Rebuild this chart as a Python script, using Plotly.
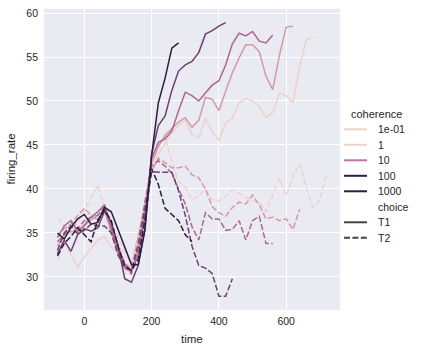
import numpy as np
import plotly.graph_objects as go

# ---------------- data ----------------
TIME = [-80, -60, -40, -20, 0, 20, 40, 60, 80, 100, 120, 140, 160, 180, 200,
        220, 240, 260, 280, 300, 320, 340, 360, 380, 400, 420, 440, 460, 480,
        500, 520, 540, 560, 580, 600, 620, 640, 660, 680, 700, 720]

COHERENCE = [3.2, 6.4, 12.8, 25.6, 51.2]
CHOICES = ["T1", "T2"]

T1_C3_2 = [31.8, 34.0, 32.5, 31.1, 32.3, 33.2, 34.2, 34.6, 33.4, 32.6, 31.6, 30.9, 32.8, 36.5, 42.5,
           44.0, 45.2, 46.4, 47.2, 47.8, 46.2, 45.8, 48.0, 46.5, 45.5, 47.5, 48.0, 49.8, 50.3, 50.0,
           49.4, 48.1, 48.7, 50.9, 50.6, 49.8, 53.9, 57.0, 57.2]
T1_C6_4 = [33.5, 34.8, 35.2, 35.0, 35.8, 36.5, 37.0, 37.6, 35.2, 32.8, 31.0, 30.5, 33.0, 37.5, 43.0,
           44.8, 46.1, 46.8, 47.6, 48.1, 47.0, 47.8, 50.4, 50.2, 48.9, 51.1, 53.2, 54.9, 56.4, 56.4,
           55.6, 52.8, 51.3, 55.2, 58.4, 58.5]
T1_C12_8 = [34.5, 35.8, 36.4, 35.2, 35.9, 36.8, 37.4, 38.2, 35.5, 33.0, 31.2, 30.8, 32.5, 37.0, 43.5,
            45.3, 45.7, 46.6, 48.9, 51.0, 50.6, 50.0, 50.9, 51.8, 52.3, 54.1, 56.5, 57.7, 57.4, 57.9,
            56.8, 56.6, 57.5]
T1_C25_6 = [32.6, 34.2, 32.9, 34.8, 35.5, 35.2, 35.6, 37.5, 36.2, 33.6, 29.8, 29.4, 31.3, 35.5, 44.0,
            47.2, 48.3, 51.2, 53.4, 54.1, 54.5, 55.5, 57.6, 58.0, 58.5, 58.9]
T1_C51_2 = [35.0, 34.3, 35.6, 36.6, 37.1, 36.0, 36.2, 37.9, 37.4, 35.4, 33.3, 31.4, 31.4, 35.3, 43.8,
            49.8, 52.6, 56.0, 56.6]

T2_C3_2 = [36.7, 35.8, 35.0, 36.2, 37.6, 38.9, 40.4, 37.8, 36.2, 34.5, 32.8, 31.6, 34.8, 38.5, 42.5,
           45.0, 45.9, 43.1, 40.8, 40.2, 38.8, 39.2, 40.0, 38.8, 38.6, 39.2, 39.9, 39.5, 39.0, 38.7,
           38.5, 37.4, 39.3, 41.2, 39.2, 41.4, 42.9, 40.1, 37.9, 38.8, 41.6]
T2_C6_4 = [34.5, 35.5, 36.0, 37.0, 37.8, 37.0, 36.5, 37.5, 35.0, 33.8, 31.5, 31.0, 34.5, 38.0, 42.0,
           43.5, 43.0, 42.4, 42.4, 42.6, 41.6, 41.3, 40.0, 38.0, 37.3, 36.9, 37.9, 38.5, 38.3, 39.3,
           38.2, 36.6, 36.8, 36.4, 36.6, 35.4, 37.7]
T2_C12_8 = [34.0, 34.8, 35.8, 35.5, 36.4, 36.8, 37.0, 38.0, 36.0, 33.2, 31.6, 30.3, 33.8, 38.5, 42.6,
            43.2, 42.6, 41.8, 40.0, 38.3, 35.7, 34.2, 37.3, 36.6, 36.6, 35.3, 35.4, 36.4, 34.2, 36.4,
            36.9, 33.8, 33.8]
T2_C25_6 = [33.0, 35.0, 35.8, 34.9, 35.3, 36.0, 35.8, 35.8, 35.0, 32.5, 31.0, 30.8, 33.5, 38.0, 42.0,
            41.9, 41.9, 41.9, 39.8, 37.0, 33.5, 31.3, 31.0, 30.4, 27.8, 27.8, 29.8]
T2_C51_2 = [32.4, 33.8, 34.6, 35.6, 34.8, 34.0, 36.5, 37.6, 36.4, 33.5, 31.3, 30.7, 32.0, 36.5, 42.3,
            40.5, 37.8, 37.1, 36.4, 34.8, 34.0]

SERIES = {
    (3.2, "T1"): T1_C3_2, (3.2, "T2"): T2_C3_2,
    (6.4, "T1"): T1_C6_4, (6.4, "T2"): T2_C6_4,
    (12.8, "T1"): T1_C12_8, (12.8, "T2"): T2_C12_8,
    (25.6, "T1"): T1_C25_6, (25.6, "T2"): T2_C25_6,
    (51.2, "T1"): T1_C51_2, (51.2, "T2"): T2_C51_2,
}

XTICKS = [0, 200, 400, 600]
YTICKS = [30, 35, 40, 45, 50, 55, 60]
HUE_LEGEND_VALUES = [0.1, 1, 10, 100, 1000]
HUE_LEGEND_LABELS = ["1e-01", "1", "10", "100", "1000"]

# ---------------- colour mapping (seaborn default cubehelix + log norm) ----------------
def cubehelix(x, start=0.0, rot=0.4, gamma=1.0, hue=0.8):
    xg = x ** gamma
    a = hue * xg * (1 - xg) / 2
    phi = 2 * np.pi * (start / 3 + rot * x)
    r = xg + a * (-0.14861 * np.cos(phi) + 1.78277 * np.sin(phi))
    g = xg + a * (-0.29227 * np.cos(phi) - 0.90649 * np.sin(phi))
    b = xg + a * (1.97294 * np.cos(phi))
    rgb = [int(round(255 * min(max(c, 0), 1))) for c in (r, g, b)]
    return "rgb({},{},{})".format(*rgb)

VMIN, VMAX = min(COHERENCE), max(COHERENCE)

def hue_color(v):
    n = (np.log(v) - np.log(VMIN)) / (np.log(VMAX) - np.log(VMIN))
    n = min(max(n, 0.0), 1.0)
    return cubehelix(0.85 - 0.7 * n)

DASH = "6px,2.4px"

fig = go.Figure()
for c in COHERENCE:
    for ch in CHOICES:
        vals = SERIES[(c, ch)]
        fig.add_trace(go.Scatter(
            x=TIME[:len(vals)], y=vals, mode="lines",
            line=dict(color=hue_color(c), width=1.5, dash=("solid" if ch == "T1" else DASH)),
            showlegend=False, hoverinfo="skip"))

allx = [t for v in SERIES.values() for t in TIME[:len(v)]]
ally = [y for v in SERIES.values() for y in v]
xr = [min(allx), max(allx)]
yr = [min(ally), max(ally)]
xpad = 0.05 * (xr[1] - xr[0])
ypad = 0.05 * (yr[1] - yr[0])

W, H = 437, 352
L, R, T, B = 44, 97, 7, 42
PW, PH = W - L - R, H - T - B

def px(xp):
    return (xp - L) / PW

def py(yp):
    return (H - B - yp) / PH

TXT = "#262626"
FONT = "Liberation Sans, Arial, sans-serif"

fig.update_layout(
    width=W, height=H,
    margin=dict(l=L, r=R, t=T, b=B),
    paper_bgcolor="white", plot_bgcolor="#EAEAF2",
    font=dict(family=FONT, size=10.5, color=TXT),
    showlegend=False,
    xaxis=dict(range=[xr[0] - xpad, xr[1] + xpad], tickvals=XTICKS,
               showgrid=True, gridcolor="white", gridwidth=1, zeroline=False,
               showline=False, ticks="", ticklabelstandoff=3,
               tickfont=dict(size=10.5, color=TXT)),
    yaxis=dict(range=[yr[0] - ypad, yr[1] + ypad], tickvals=YTICKS,
               showgrid=True, gridcolor="white", gridwidth=1, zeroline=False,
               showline=False, ticks="", ticklabelstandoff=5,
               tickfont=dict(size=10.5, color=TXT)),
)

annotations = [
    dict(text="time", x=0.5, y=py(339), xref="paper", yref="paper",
         xanchor="center", yanchor="middle", showarrow=False,
         font=dict(size=11.5, color=TXT)),
    dict(text="firing_rate", x=px(10), y=0.5, xref="paper", yref="paper",
         xanchor="center", yanchor="middle", textangle=-90, showarrow=False,
         font=dict(size=11.5, color=TXT)),
]
shapes = []

ROW0 = 112.5
ROWSTEP = 15.6
SAMPLE_X0, SAMPLE_X1, LABEL_X = 344, 367, 375.5

# legend title
annotations.append(dict(text="coherence", x=px(376), y=py(ROW0), xref="paper", yref="paper",
                        xanchor="center", yanchor="middle", showarrow=False,
                        font=dict(size=11, color=TXT)))
rows = []
for v, lab in zip(HUE_LEGEND_VALUES, HUE_LEGEND_LABELS):
    rows.append((lab, hue_color(v), "solid"))
rows.append(("choice", None, None))
rows.append(("T1", "#444444", "solid"))
rows.append(("T2", "#444444", DASH))

for i, (lab, col, dash) in enumerate(rows):
    yrow = ROW0 + ROWSTEP * (i + 1)
    if col is not None:
        shapes.append(dict(type="line", xref="paper", yref="paper",
                           x0=px(SAMPLE_X0), x1=px(SAMPLE_X1), y0=py(yrow), y1=py(yrow),
                           line=dict(color=col, width=2, dash=dash)))
    annotations.append(dict(text=lab, x=px(LABEL_X), y=py(yrow), xref="paper", yref="paper",
                            xanchor="left", yanchor="middle", showarrow=False,
                            font=dict(size=10.5, color=TXT)))

fig.update_layout(annotations=annotations, shapes=shapes)
fig.write_html("out.html")
